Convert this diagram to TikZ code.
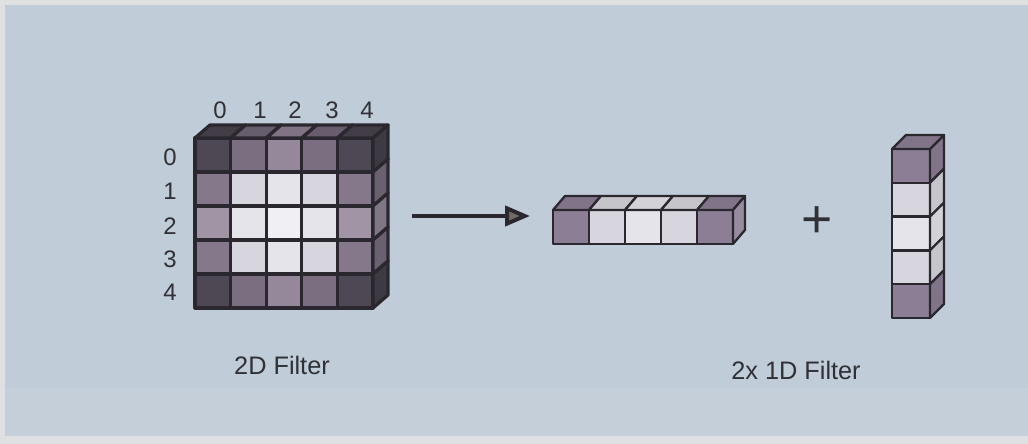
\documentclass[tikz,border=0pt]{standalone}
\usepackage{fontspec}
\setmainfont{Liberation Sans}
\usetikzlibrary{arrows.meta}

\definecolor{paper}{RGB}{222,224,226}
\definecolor{panel}{RGB}{192,205,216}
\definecolor{band}{RGB}{197,207,217}
\definecolor{edgegray}{RGB}{42,40,46}
\definecolor{textgray}{RGB}{48,48,54}
\definecolor{tipgray}{RGB}{112,108,100}
% cell shades, dark to light
\definecolor{dk}{RGB}{78,72,84}
\definecolor{md}{RGB}{122,110,128}
\definecolor{mdl}{RGB}{150,136,155}
\definecolor{mda}{RGB}{132,120,138}
\definecolor{mdb}{RGB}{160,148,165}
\definecolor{pu}{RGB}{140,126,148}
\definecolor{lt}{RGB}{215,214,222}
\definecolor{ltr}{RGB}{228,228,234}
\definecolor{wh}{RGB}{240,240,244}

\tikzset{
    cell/.style={draw=edgegray, line width=2.3pt, line join=round},
    thincell/.style={draw=edgegray, line width=1.6pt, line join=round},
    idx/.style={text=textgray, font=\fontsize{17}{19}\selectfont, inner sep=0pt},
    caption/.style={text=textgray, font=\fontsize{18}{20}\selectfont, inner sep=0pt},
    arrowline/.style={draw=edgegray, line width=2.8pt,
        -{Triangle[length=0.62cm, width=0.5cm, fill=tipgray]}}
}

\begin{document}
\begin{tikzpicture}[x=0.025cm, y=-0.025cm]
    \fill[paper] (0,0) rectangle (1028,444);
    \fill[panel] (5,5) rectangle (1028,388);
    \fill[band] (5,388) rectangle (1028,436);

    % 2D filter: 5x5 block
    \foreach \row [count=\r from 0] in {{dk,md,mdl,md,dk},{mda,lt,ltr,lt,mda},{mdb,ltr,wh,ltr,mdb},{mda,lt,ltr,lt,mda},{dk,md,mdl,md,dk}}
        \foreach \col [count=\c from 0] in \row
            \filldraw[cell, fill=\col] ({195+35.6*\c},{138+34*\r}) rectangle ++(35.6,34);
    \foreach \col [count=\c from 0] in {dk,md,mdl,md,dk}
        \filldraw[cell, fill=\col!85!black] ({195+35.6*\c},138) -- ++(15,-13) -- ++(35.6,0) -- ++(-15,13) -- cycle;
    \foreach \col [count=\r from 0] in {dk,mda,mdb,mda,dk}
        \filldraw[cell, fill=\col!80!black] (373,{138+34*\r}) -- ++(15,-13) -- ++(0,34) -- ++(-15,13) -- cycle;

    \foreach \i/\x in {0/220,1/260,2/295,3/332,4/367}
        \node[idx] (col\i) at (\x,110) {\i};
    \foreach \i/\y in {0/157,1/191,2/226,3/259,4/292}
        \node[idx] (row\i) at (170,\y) {\i};

    % arrow
    \coordinate (tail) at (412,216);
    \coordinate (head) at (530,216);
    \draw[arrowline] (tail) -- (head);

    % horizontal 1D filter
    \foreach \col [count=\c from 0] in {pu,lt,ltr,lt,pu} {
        \filldraw[thincell, fill=\col] ({553+36*\c},210) rectangle ++(36,34);
        \filldraw[thincell, fill=\col!92!black] ({553+36*\c},210) -- ++(12,-14) -- ++(36,0) -- ++(-12,14) -- cycle;
    }
    \filldraw[thincell, fill=pu!90!white] (733,210) -- ++(12,-14) -- ++(0,34) -- ++(-12,14) -- cycle;

    \node[text=textgray, font=\fontsize{38}{40}\selectfont, inner sep=0pt] (plus) at (817,222) {+};

    % vertical 1D filter
    \foreach \col [count=\r from 0] in {pu,lt,ltr,lt,pu} {
        \filldraw[thincell, fill=\col] (892,{149+33.8*\r}) rectangle ++(38,33.8);
        \filldraw[thincell, fill=\col!92!black] (930,{149+33.8*\r}) -- ++(14,-14) -- ++(0,33.8) -- ++(-14,14) -- cycle;
    }
    \filldraw[thincell, fill=pu!92!black] (892,149) -- ++(14,-14) -- ++(38,0) -- ++(-14,14) -- cycle;

    \node[caption] (cap2d) at (282,365) {2D Filter};
    \node[caption] (cap1d) at (796,370) {2x 1D Filter};
\end{tikzpicture}
\end{document}
